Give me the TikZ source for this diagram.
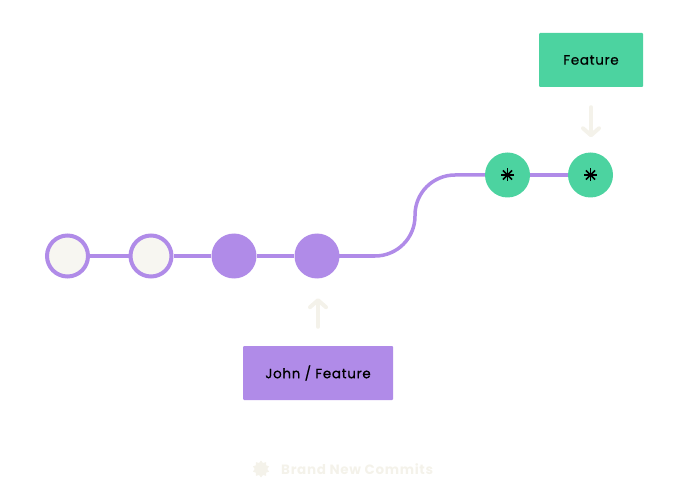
\documentclass[tikz,border=0pt]{standalone}
\usepackage{fontspec}
\setmainfont{Poppins}
\newfontfamily\labelfont[LetterSpace=5,FakeBold=0.6]{Poppins}
\newfontfamily\legendfont[LetterSpace=5]{Poppins}
\usetikzlibrary{arrows.meta,shapes.geometric,backgrounds,calc}
\definecolor{purp}{HTML}{B08BE8}
\definecolor{grn}{HTML}{4CD3A0}
\definecolor{cream}{HTML}{F7F6F1}
\definecolor{faint}{HTML}{F4F2EA}
\tikzset{
  open/.style={circle,draw=purp,line width=4pt,fill=cream,minimum size=41pt,inner sep=0pt},
  full/.style={circle,fill=purp,minimum size=45pt,inner sep=0pt},
  newc/.style={circle,fill=grn,minimum size=45pt,inner sep=0pt},
  label box/.style={minimum height=54pt,inner sep=0pt,rounded corners=1pt,font=\labelfont\fontsize{13.5}{15}\selectfont,text=black},
  branch/.style={draw=purp,line width=3.5pt},
  pointer/.style={draw=faint,line width=4pt,line cap=round,-{Straight Barb[length=7pt,width=16pt,line cap=round,line join=round]}},
  spoke/.style={line width=1.5pt,black}
}
\newcommand{\starmark}[1]{%
  \foreach \a in {0,45,90,135}{\draw[spoke] ($(#1)+(\a:6.5pt)$) -- ($(#1)+(\a+180:6.5pt)$);}}
\begin{document}
\begin{tikzpicture}[x=1pt,y=-1pt]
\useasboundingbox (0,0) rectangle (684,502);
\node[open] (c1) at (67.5,256) {};
\node[open] (c2) at (151,256) {};
\node[full] (c3) at (234,256) {};
\node[full] (c4) at (317,256) {};
\node[newc] (g1) at (507.5,175) {};
\node[newc] (g2) at (590.5,175) {};
\starmark{g1}
\starmark{g2}
\begin{scope}[on background layer]
\draw[branch] (c1) -- (c2) -- (c3) -- (c4);
\draw[branch,rounded corners=40pt] (c4.center) -- (415,256) -- (415,175) -- (g1.center);
\draw[branch] (g1) -- (g2);
\end{scope}
\node[label box,fill=grn,minimum width=104pt] (feat) at (591,60) {Feature};
\node[label box,fill=purp,minimum width=150pt] (john) at (318,373) {John / Feature};
\draw[pointer,shorten <=20pt,shorten >=15pt] (feat.south) -- (feat.south |- g2.north);
\draw[pointer,shorten <=19pt,shorten >=19.5pt] (john.north) -- (john.north |- c4.south);
\node[star,star points=10,star point ratio=1.35,fill=faint,minimum size=17pt,inner sep=0pt] (icon) at (261,469) {};
\node[anchor=west,text=faint,font=\legendfont\bfseries\fontsize{13.5}{15}\selectfont,inner sep=0pt] (legend) at (281,469) {Brand New Commits};
\end{tikzpicture}
\end{document}
